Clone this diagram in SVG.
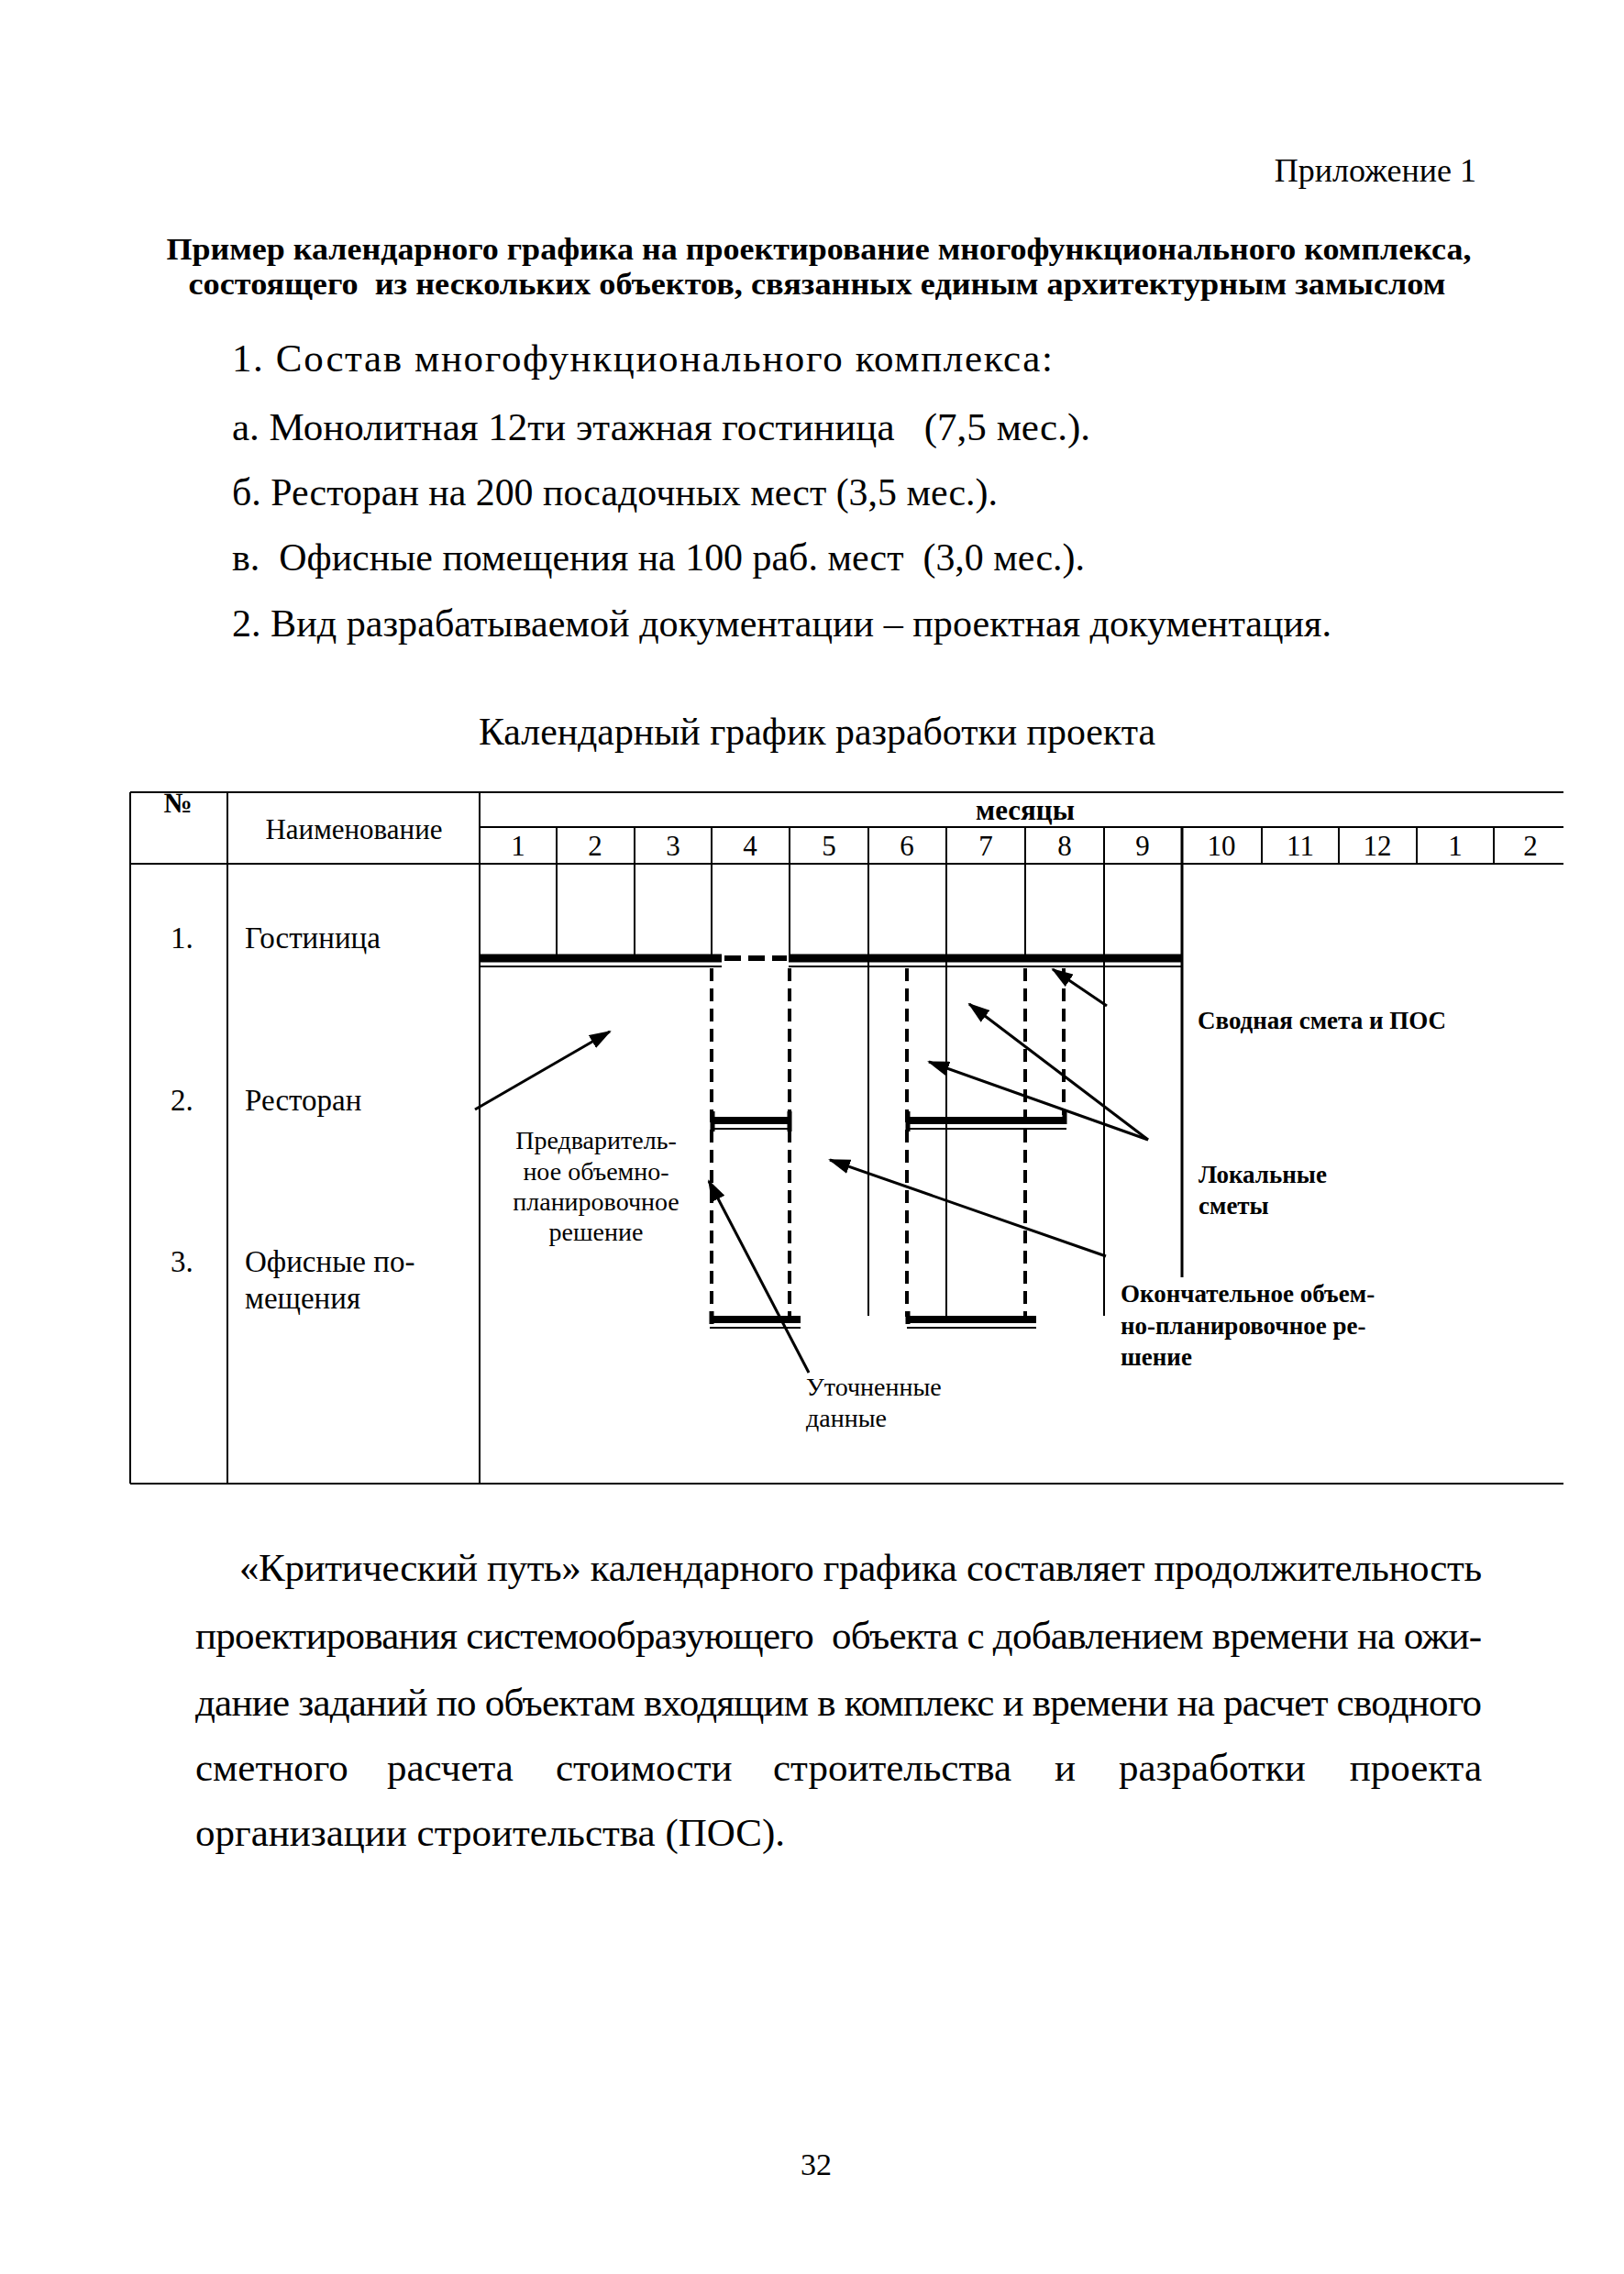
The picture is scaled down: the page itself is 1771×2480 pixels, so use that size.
<svg xmlns="http://www.w3.org/2000/svg" width="1771" height="2480" viewBox="0 0 1771 2480">
<style>
.t{font-family:"Liberation Serif","Times New Roman",serif;fill:#000}
.body{font-size:43px}
.pre{white-space:pre}
.ttl{font-size:34px;font-weight:bold}
.tb{font-size:33px}
.hd{font-size:31px}
.lbl{font-size:28px}
.lblb{font-size:27px;font-weight:bold}
.mid{text-anchor:middle}
.grid{stroke:#000;stroke-width:2;fill:none}
.bar{stroke:#000;stroke-width:9;fill:none}
.thin{stroke:#000;stroke-width:2;fill:none}
.tick{stroke:#000;stroke-width:5;fill:none}
.dash{stroke:#000;stroke-width:4;stroke-dasharray:14 8;fill:none}
.hdash{stroke:#000;stroke-width:6;stroke-dasharray:18 8;fill:none}
.arr{stroke:#000;stroke-width:3;fill:none;marker-end:url(#ah)}
</style>
<defs>
<marker id="ah" markerUnits="userSpaceOnUse" viewBox="0 0 24 16" markerWidth="24" markerHeight="16" refX="22" refY="8" orient="auto">
<path d="M0,0 L24,8 L0,16 z" fill="#000"/>
</marker>
</defs>
<rect x="0" y="0" width="1771" height="2480" fill="#fff"/>

<g id="page-text" class="t">
<text class="body" x="1610" y="198" style="font-size:36px;text-anchor:end">Приложение 1</text>
<text class="ttl mid" x="893" y="283" textLength="1423" lengthAdjust="spacingAndGlyphs">Пример календарного графика на проектирование многофункционального комплекса,</text>
<text class="ttl mid pre" x="891" y="321" textLength="1371" lengthAdjust="spacingAndGlyphs">состоящего  из нескольких объектов, связанных единым архитектурным замыслом</text>
<text class="body" x="253" y="405" textLength="895" lengthAdjust="spacing">1. Состав многофункционального комплекса:</text>
<text class="body pre" x="253" y="480" textLength="936" lengthAdjust="spacingAndGlyphs">а. Монолитная 12ти этажная гостиница   (7,5 мес.).</text>
<text class="body" x="253" y="551" textLength="835" lengthAdjust="spacingAndGlyphs">б. Ресторан на 200 посадочных мест (3,5 мес.).</text>
<text class="body pre" x="253" y="622" textLength="930" lengthAdjust="spacingAndGlyphs">в.  Офисные помещения на 100 раб. мест  (3,0 мес.).</text>
<text class="body" x="253" y="694" textLength="1199" lengthAdjust="spacingAndGlyphs">2. Вид разрабатываемой документации – проектная документация.</text>
<text class="body mid" x="891" y="812" textLength="738" lengthAdjust="spacingAndGlyphs">Календарный график разработки проекта</text>
<text class="body" x="261" y="1724" textLength="1355" lengthAdjust="spacing">«Критический путь» календарного графика составляет продолжительность</text>
<text class="body pre" x="213" y="1798" textLength="1403" lengthAdjust="spacing">проектирования системообразующего  объекта с добавлением времени на ожи-</text>
<text class="body" x="213" y="1871" textLength="1403" lengthAdjust="spacing">дание заданий по объектам входящим в комплекс и времени на расчет сводного</text>
<text class="body" x="213" y="1942">сметного</text>
<text class="body" x="422" y="1942">расчета</text>
<text class="body" x="606" y="1942">стоимости</text>
<text class="body" x="843" y="1942">строительства</text>
<text class="body" x="1150" y="1942">и</text>
<text class="body" x="1220" y="1942">разработки</text>
<text class="body" x="1616" y="1942" style="text-anchor:end">проекта</text>
<text class="body" x="213" y="2013">организации строительства (ПОС).</text>
<text class="body mid" x="890" y="2372" style="font-size:34px">32</text>
</g>

<g id="table-grid">
<path class="grid" d="M142,864 H1705 M523,902 H1705 M142,942 H1705 M142,1618 H1705"/>
<path class="grid" d="M142,864 V1618 M248,864 V1618 M523,864 V1618"/>
<path class="grid" d="M607,902 V1041 M692,902 V1041 M776,902 V1041 M861,902 V1041 M1118,902 V1041"/>
<path class="grid" d="M947,902 V1435 M1032,902 V1435 M1204,902 V1435"/>
<path class="grid" d="M1376,902 V942 M1460,902 V942 M1545,902 V942 M1629,902 V942"/>
<path stroke="#000" stroke-width="3" fill="none" d="M1289,902 V1393"/>
</g>

<g id="table-header" class="t">
<text class="hd mid" x="194" y="886" style="font-weight:bold">№</text>
<text class="hd mid" x="386" y="915">Наименование</text>
<text class="hd mid" x="1118" y="894" style="font-weight:bold">месяцы</text>
<g class="hd mid">
<text x="565" y="933">1</text><text x="649" y="933">2</text><text x="734" y="933">3</text><text x="818" y="933">4</text>
<text x="904" y="933">5</text><text x="989" y="933">6</text><text x="1075" y="933">7</text><text x="1161" y="933">8</text>
<text x="1246" y="933">9</text><text x="1332" y="933">10</text><text x="1418" y="933">11</text><text x="1502" y="933">12</text>
<text x="1587" y="933">1</text><text x="1669" y="933">2</text>
</g>
</g>

<g id="row-hotel">
<text class="t tb" x="186" y="1034">1.</text>
<text class="t tb" x="267" y="1034">Гостиница</text>
<path class="bar" d="M523,1045 H787 M860,1045 H1290"/>
<path class="thin" d="M523,1054 H787 M860,1054 H1290"/>
<path class="hdash" d="M790,1045 H858"/>
</g>

<g id="row-restaurant">
<text class="t tb" x="186" y="1211">2.</text>
<text class="t tb" x="267" y="1211">Ресторан</text>
<path class="bar" style="stroke-width:8" d="M776,1222 H862 M989,1222 H1163"/>
<path class="thin" d="M776,1231 H862 M989,1231 H1163"/>
<path class="tick" d="M777,1212 V1234 M861,1212 V1234 M990,1212 V1234 M1161,1212 V1226"/>
</g>

<g id="row-office">
<text class="t tb" x="186" y="1387">3.</text>
<text class="t tb" x="267" y="1387">Офисные по-</text>
<text class="t tb" x="267" y="1427">мещения</text>
<path class="bar" style="stroke-width:8" d="M774,1439 H873 M989,1439 H1130"/>
<path class="thin" d="M774,1448 H873 M989,1448 H1130"/>
<path class="tick" d="M776,1430 V1444 M990,1430 V1444"/>
</g>

<g id="dependencies">
<path class="dash" d="M776,1056 V1436"/>
<path class="dash" d="M861,1056 V1436"/>
<path class="dash" d="M989,1056 V1436"/>
<path class="dash" d="M1118,1056 V1436"/>
<path class="dash" d="M1160,1056 V1216"/>
</g>

<g id="label-prelim" class="t lbl mid">
<text x="650" y="1253">Предваритель-</text>
<text x="650" y="1287">ное объемно-</text>
<text x="650" y="1320">планировочное</text>
<text x="650" y="1353">решение</text>
</g>
<g id="label-refined" class="t lbl">
<text x="879" y="1522">Уточненные</text>
<text x="879" y="1556">данные</text>
</g>
<g id="label-summary" class="t lblb">
<text x="1306" y="1122">Сводная смета и ПОС</text>
</g>
<g id="label-local" class="t lblb">
<text x="1307" y="1290">Локальные</text>
<text x="1307" y="1324">сметы</text>
</g>
<g id="label-final" class="t lblb">
<text x="1222" y="1420">Окончательное объем-</text>
<text x="1222" y="1455">но-планировочное ре-</text>
<text x="1222" y="1489">шение</text>
</g>

<g id="connectors">
<line class="arr" x1="518" y1="1210" x2="665" y2="1125"/>
<line class="arr" x1="882" y1="1497" x2="773" y2="1288"/>
<line class="arr" x1="1206" y1="1370" x2="905" y2="1265"/>
<line class="arr" x1="1252" y1="1243" x2="1057" y2="1095"/>
<line class="arr" x1="1252" y1="1243" x2="1013" y2="1158"/>
<line class="arr" x1="1207" y1="1097" x2="1148" y2="1057"/>
</g>
</svg>
